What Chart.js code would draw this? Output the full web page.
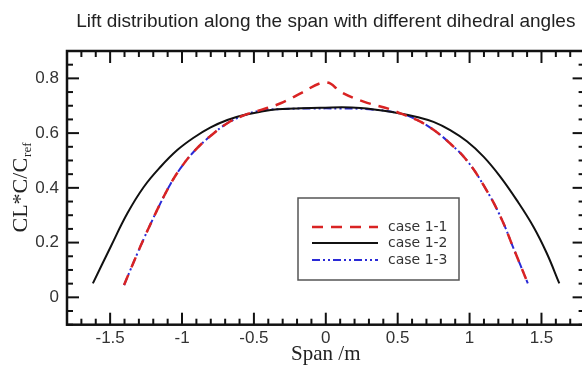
<!DOCTYPE html>
<html>
<head>
<meta charset="utf-8">
<script src="https://cdn.jsdelivr.net/npm/chart.js@4.4.1/dist/chart.umd.min.js"></script>
<style>
  html, body { margin: 0; padding: 0; background: #fff; overflow: hidden; }
  #wrap { width: 600px; height: 370px; }
</style>
</head>
<body>
<div id="wrap"><canvas id="chart" width="600" height="370"></canvas></div>
<script>
// span stations (m) and CL*C/Cref per case
const case11X = [-1.403, -1.357, -1.31, -1.265, -1.218, -1.149, -1.079, -1.01, -0.917, -0.801, -0.685, -0.57, -0.45, -0.314, -0.176, -0.04, 0.03, 0.101, 0.263, 0.449, 0.518, 0.634, 0.749, 0.865, 0.981, 1.097, 1.213, 1.305, 1.405];
const case11Y = [0.045, 0.103, 0.161, 0.215, 0.269, 0.345, 0.415, 0.472, 0.533, 0.59, 0.636, 0.665, 0.685, 0.709, 0.745, 0.782, 0.782, 0.751, 0.715, 0.687, 0.672, 0.648, 0.612, 0.562, 0.5, 0.41, 0.297, 0.18, 0.051];

const case12X = [-1.62, -1.496, -1.38, -1.265, -1.149, -1.033, -0.917, -0.801, -0.685, -0.57, -0.454, -0.338, -0.223, -0.04, 0.24, 0.518, 0.634, 0.749, 0.865, 0.981, 1.097, 1.213, 1.328, 1.444, 1.537, 1.624];
const case12Y = [0.051, 0.185, 0.307, 0.404, 0.477, 0.538, 0.584, 0.621, 0.648, 0.666, 0.678, 0.687, 0.69, 0.693, 0.692, 0.672, 0.659, 0.641, 0.611, 0.57, 0.514, 0.441, 0.355, 0.258, 0.161, 0.051];

const case13X = [-1.403, -1.357, -1.31, -1.265, -1.218, -1.149, -1.079, -1.01, -0.917, -0.801, -0.685, -0.57, -0.454, -0.3, -0.1, 0.1, 0.3, 0.518, 0.634, 0.749, 0.865, 0.981, 1.097, 1.213, 1.305, 1.405];
const case13Y = [0.045, 0.103, 0.161, 0.215, 0.269, 0.345, 0.415, 0.472, 0.533, 0.59, 0.636, 0.665, 0.682, 0.688, 0.69, 0.69, 0.687, 0.672, 0.648, 0.612, 0.562, 0.5, 0.41, 0.297, 0.18, 0.051];

const seriesLabels = ['case 1-1', 'case 1-2', 'case 1-3'];
const xTicks = [-1.5, -1, -0.5, 0, 0.5, 1, 1.5];
const yTicks = [0, 0.2, 0.4, 0.6, 0.8];

const pts = (xs, ys) => xs.map((x, i) => ({ x: x, y: ys[i] }));

// inward ticks on all four sides + heavy frame, like the Tecplot original
const framePlugin = {
    id: 'frame',
    afterDatasetsDraw(chart) {
        const { ctx, chartArea: a, scales: { x, y } } = chart;
        ctx.save();
        ctx.strokeStyle = '#111';
        ctx.lineWidth = 2;
        const major = 12, minor = 6;
        const tick = (x0, y0, x1, y1) => { ctx.beginPath(); ctx.moveTo(x0, y0); ctx.lineTo(x1, y1); ctx.stroke(); };
        for (let i = -18; i <= 18; i++) {
            const v = i / 10;
            const len = xTicks.includes(v) ? major : minor;
            const px = x.getPixelForValue(v);
            tick(px, a.bottom, px, a.bottom - len);
            tick(px, a.top, px, a.top + len);
        }
        for (let i = -2; i <= 18; i++) {
            const v = Math.round(i * 5) / 100;
            const len = yTicks.includes(v) ? major : minor;
            const py = y.getPixelForValue(v);
            tick(a.left, py, a.left + len, py);
            tick(a.right, py, a.right - len, py);
        }
        ctx.lineWidth = 2.5;
        ctx.strokeRect(a.left, a.top, a.right - a.left, a.bottom - a.top);

        // legend box
        const bx = 298, by = 198, bw = 161, bh = 82;
        ctx.fillStyle = '#fff';
        ctx.fillRect(bx, by, bw, bh);
        ctx.lineWidth = 1.5;
        ctx.strokeStyle = '#555';
        ctx.strokeRect(bx, by, bw, bh);
        const rows = [227, 243, 260];
        ctx.font = '14px "DejaVu Sans", sans-serif';
        ctx.textBaseline = 'middle';
        chart.data.datasets.forEach((ds, i) => {
            ctx.strokeStyle = ds.borderColor;
            ctx.lineWidth = ds.borderWidth;
            ctx.setLineDash(ds.borderDash || []);
            tick(312, rows[i], 378, rows[i]);
            ctx.setLineDash([]);
            ctx.fillStyle = '#333';
            ctx.fillText(ds.label, 388, rows[i]);
        });

        // y axis title with subscript
        ctx.translate(27, 188);
        ctx.rotate(-Math.PI / 2);
        ctx.fillStyle = '#222';
        ctx.textBaseline = 'alphabetic';
        ctx.font = '22px "Liberation Serif", "Times New Roman", serif';
        const main = 'CL*C/C';
        const mw = ctx.measureText(main).width;
        ctx.font = '13px "Liberation Serif", "Times New Roman", serif';
        const sw = ctx.measureText('ref').width;
        const start = -(mw + sw) / 2;
        ctx.font = '22px "Liberation Serif", "Times New Roman", serif';
        ctx.fillText(main, start, 0);
        ctx.font = '13px "Liberation Serif", "Times New Roman", serif';
        ctx.fillText('ref', start + mw + 1, 4);
        ctx.restore();
    }
};

new Chart(document.getElementById('chart'), {
    type: 'scatter',
    data: {
        datasets: [
            { label: seriesLabels[0], data: pts(case11X, case11Y), borderColor: '#d92323', borderWidth: 2.5, borderDash: [11, 8] },
            { label: seriesLabels[1], data: pts(case12X, case12Y), borderColor: '#111', borderWidth: 2, borderDash: [] },
            { label: seriesLabels[2], data: pts(case13X, case13Y), borderColor: '#2a2ad6', borderWidth: 2, borderDash: [8, 3, 2, 3, 2, 3] }
        ].map(d => Object.assign(d, { showLine: true, pointRadius: 0, tension: 0.4, fill: false }))
    },
    options: {
        responsive: false,
        devicePixelRatio: 1,
        animation: false,
        layout: { padding: { left: 0, right: 15.4, top: 0, bottom: 0 } },
        plugins: {
            legend: { display: false },
            tooltip: { enabled: false },
            title: {
                display: true,
                fullSize: false,
                text: 'Lift distribution along the span with different dihedral angles',
                color: '#222',
                font: { family: '"Liberation Sans", Arial, sans-serif', size: 19, weight: 'normal' },
                padding: { top: 10, bottom: 18.2 }
            }
        },
        scales: {
            x: {
                type: 'linear', min: -1.8, max: 1.8,
                afterBuildTicks: s => { s.ticks = xTicks.map(v => ({ value: v })); },
                afterFit: s => { s.height = 45.3; },
                grid: { display: false, drawTicks: false },
                border: { display: false },
                ticks: { color: '#333', padding: 3, font: { family: '"Liberation Sans", Arial, sans-serif', size: 17 }, callback: v => String(v), maxRotation: 0 },
                title: { display: true, text: 'Span /m', color: '#222', padding: { top: 0, bottom: 3 }, font: { family: '"Liberation Serif", "Times New Roman", serif', size: 21 } }
            },
            y: {
                type: 'linear', min: -0.1, max: 0.9,
                afterBuildTicks: s => { s.ticks = yTicks.map(v => ({ value: v })); },
                afterFit: s => { s.width = 67; },
                grid: { display: false, drawTicks: false },
                border: { display: false },
                ticks: { color: '#333', padding: 8, font: { family: '"Liberation Sans", Arial, sans-serif', size: 17 }, callback: v => String(v) }
            }
        }
    },
    plugins: [framePlugin]
});
</script>
</body>
</html>
